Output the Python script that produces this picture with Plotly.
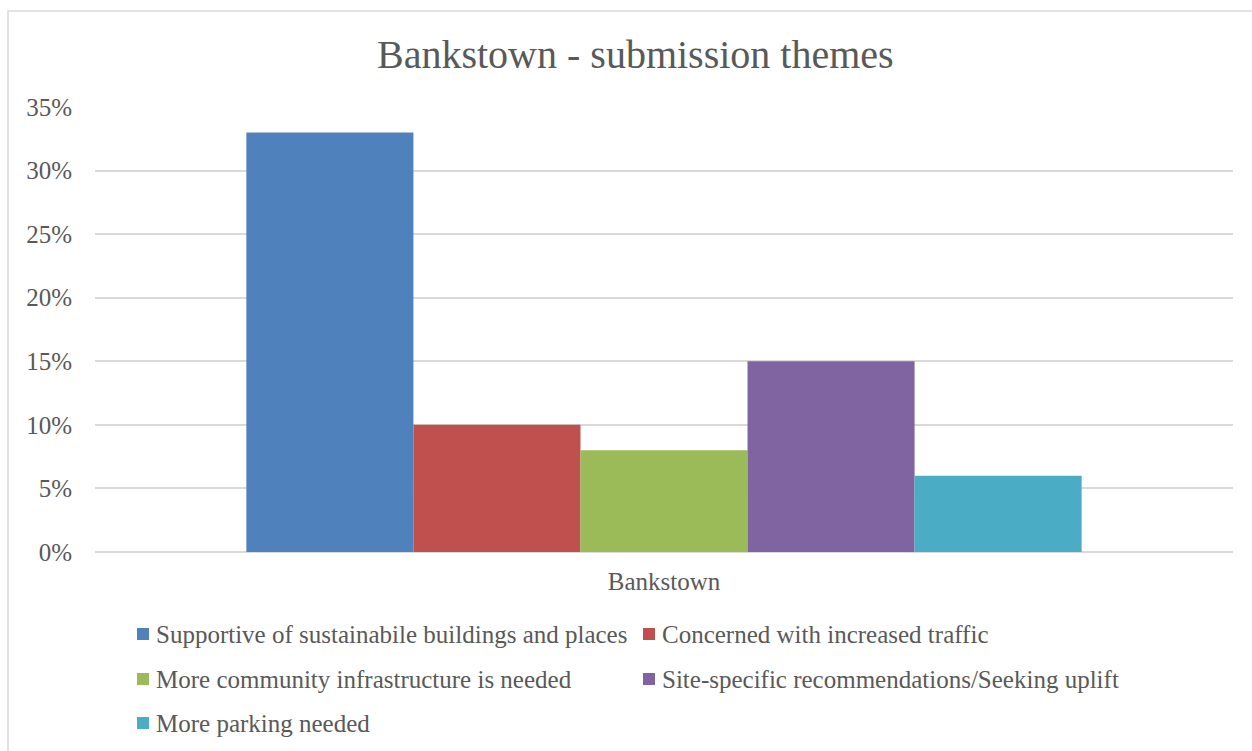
import plotly.graph_objects as go

# Submission themes for Bankstown (share of submissions)
category = ["Bankstown"]
themes = [
    "Supportive of sustainabile buildings and places",
    "Concerned with increased traffic",
    "More community infrastructure is needed",
    "Site-specific recommendations/Seeking uplift",
    "More parking needed",
]
shares = [0.33, 0.10, 0.08, 0.15, 0.06]
colors = ["#4F81BD", "#C0504D", "#9BBB59", "#8064A2", "#4BACC6"]
y_ticks = [0, 0.05, 0.10, 0.15, 0.20, 0.25, 0.30, 0.35]
y_tick_text = ["0%", "5%", "10%", "15%", "20%", "25%", "30%", "35%"]

FONT = "Liberation Serif"
GREY = "#595959"
TXT = 25
W, H = 1252, 751
ML, MR, MT, MB = 95, 19, 107, 199
PW, PH = W - ML - MR, H - MT - MB


def px_x(x):
    return (x - ML) / PW


def px_y(y):
    return (H - MB - y) / PH


fig = go.Figure()
for name, val, col in zip(themes, shares, colors):
    fig.add_trace(go.Bar(x=category, y=[val], name=name, marker_color=col,
                         marker_line_width=0, showlegend=False))

shapes = [
    # chart frame
    dict(type="rect", xref="paper", yref="paper",
         x0=px_x(8), x1=px_x(W + 20), y0=px_y(H + 20), y1=px_y(11),
         line=dict(color="#D9D9D9", width=1.5), fillcolor="rgba(0,0,0,0)", layer="below"),
]
annotations = [
    dict(text="Bankstown - submission themes", xref="paper", yref="paper",
         x=px_x(635), y=px_y(55), showarrow=False, xanchor="center", yanchor="middle",
         font=dict(family=FONT, size=40, color=GREY)),
]

# legend drawn as swatches + labels, two columns
legend_cols = [137, 643]
legend_rows = [634, 679, 723]
for i, (name, col) in enumerate(zip(themes, colors)):
    cx = legend_cols[i % 2]
    cy = legend_rows[i // 2]
    shapes.append(dict(type="rect", xref="paper", yref="paper",
                       x0=px_x(cx), x1=px_x(cx + 12), y0=px_y(cy + 6), y1=px_y(cy - 6),
                       line=dict(width=0), fillcolor=col))
    annotations.append(dict(text=name, xref="paper", yref="paper",
                            x=px_x(cx + 17), y=px_y(cy), showarrow=False,
                            xanchor="left", yanchor="middle",
                            font=dict(family=FONT, size=TXT, color=GREY)))

fig.update_layout(
    width=W, height=H,
    margin=dict(l=ML, r=MR, t=MT, b=MB),
    paper_bgcolor="white", plot_bgcolor="white",
    barmode="group", bargap=0.266, bargroupgap=0,
    font=dict(family=FONT, size=TXT, color=GREY),
    shapes=shapes, annotations=annotations,
    xaxis=dict(showgrid=False, showline=False, ticks="", tickfont=dict(size=TXT, color=GREY),
               ticklabelstandoff=12),
    yaxis=dict(range=[0, 0.35], tickvals=y_ticks, ticktext=y_tick_text,
               showgrid=True, gridcolor="#D9D9D9", gridwidth=1.5,
               zeroline=True, zerolinecolor="#D9D9D9", zerolinewidth=1.5,
               showline=False, ticks="", tickfont=dict(size=TXT, color=GREY),
               ticklabelstandoff=22),
)

fig.write_html("out.html")
